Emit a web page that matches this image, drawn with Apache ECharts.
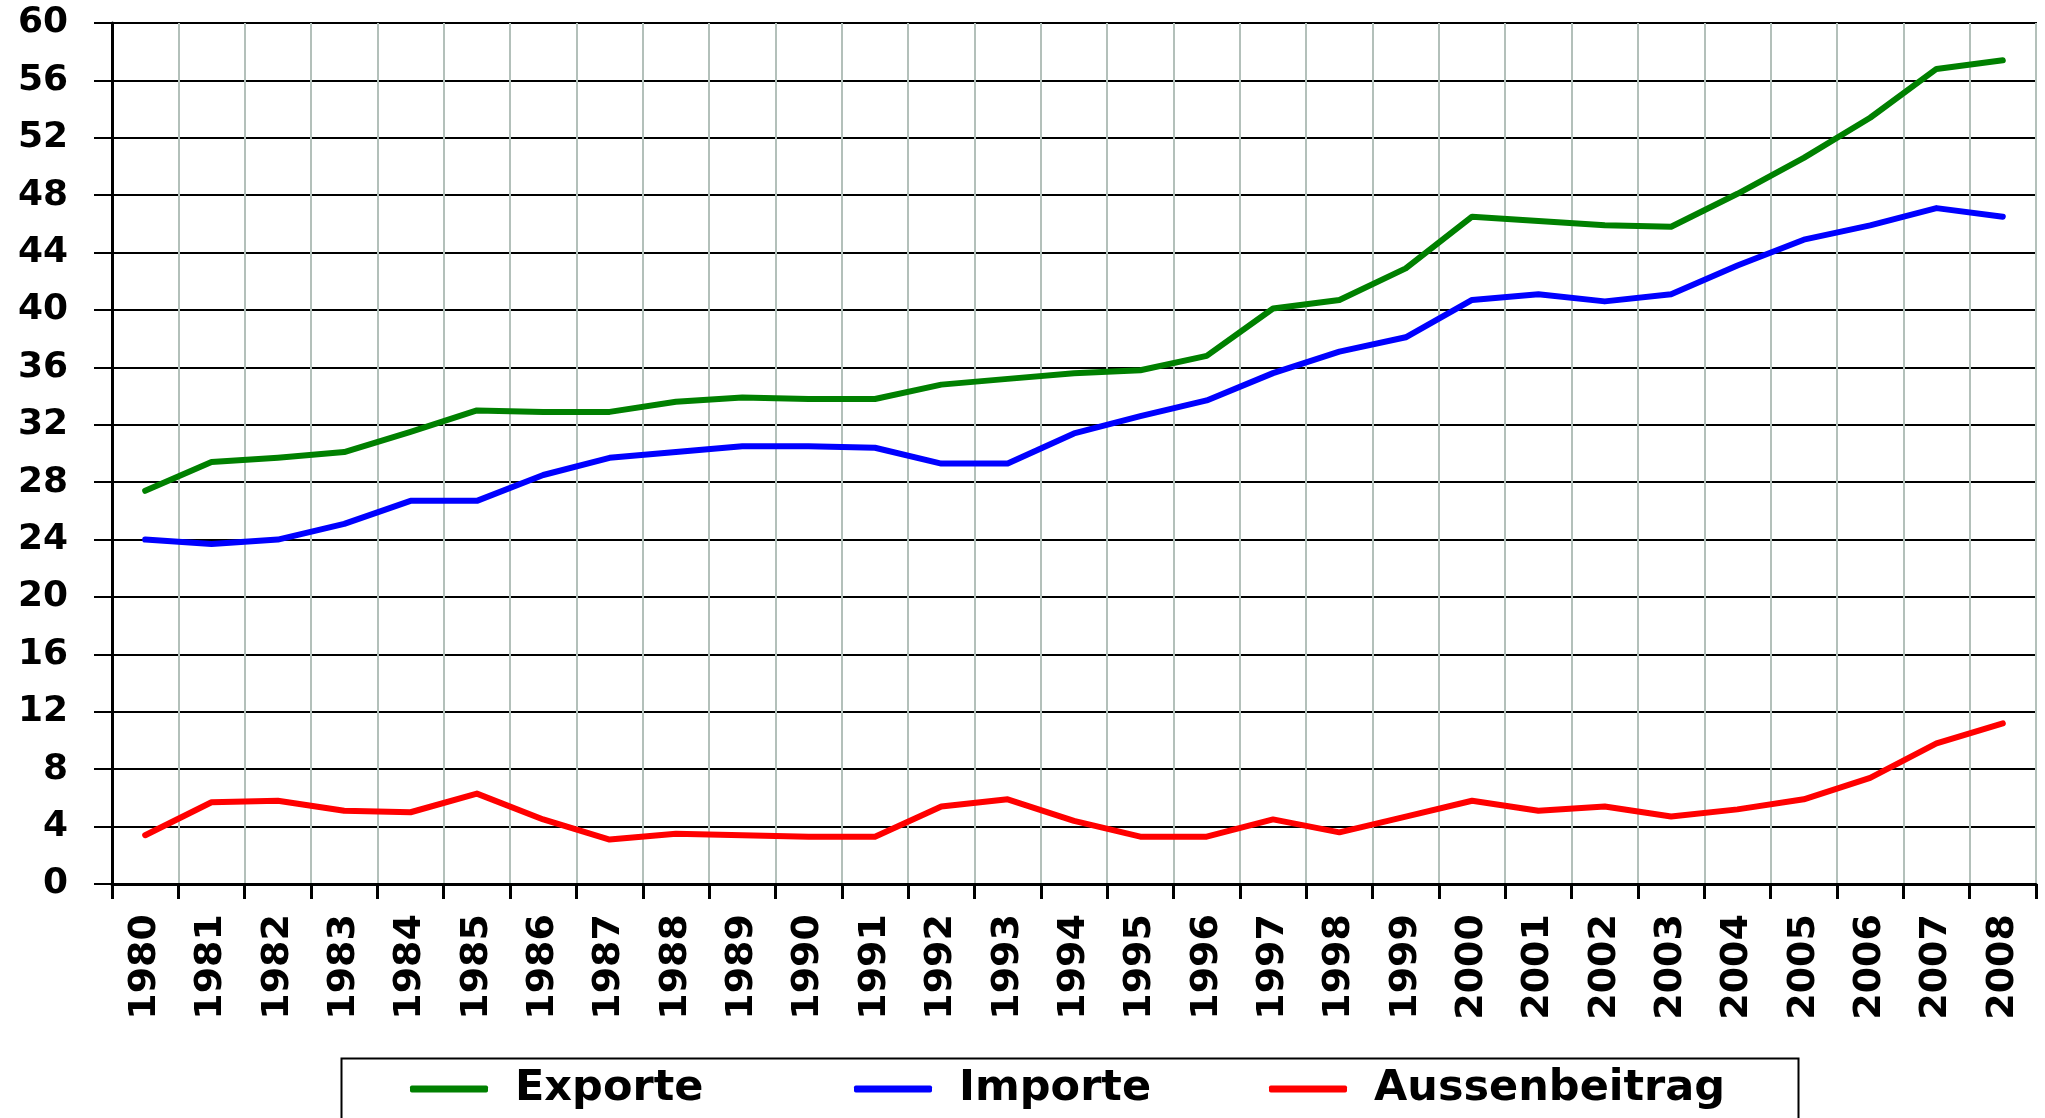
<!DOCTYPE html>
<html>
<head>
<meta charset="utf-8">
<script src="https://cdn.jsdelivr.net/npm/echarts@6/dist/echarts.min.js"></script>
<style>
  html, body { margin: 0; padding: 0; background: #fff; }
  #chart { width: 2045px; height: 1118px; }
</style>
</head>
<body>
<div id="chart"></div>
<script>
const years = ["1980","1981","1982","1983","1984","1985","1986","1987","1988","1989",
  "1990","1991","1992","1993","1994","1995","1996","1997","1998","1999",
  "2000","2001","2002","2003","2004","2005","2006","2007","2008"]

const exporte = [27.4, 29.4, 29.7, 30.1, 31.5, 33.0, 32.9, 32.9, 33.6, 33.9,
  33.8, 33.8, 34.8, 35.2, 35.6, 35.8, 36.8, 40.1, 40.7, 42.9,
  46.5, 46.2, 45.9, 45.8, 48.1, 50.6, 53.4, 56.8, 57.4]

const importe = [24.0, 23.7, 24.0, 25.1, 26.7, 26.7, 28.5, 29.7, 30.1, 30.5,
  30.5, 30.4, 29.3, 29.3, 31.4, 32.6, 33.7, 35.6, 37.1, 38.1,
  40.7, 41.1, 40.6, 41.1, 43.1, 44.9, 45.9, 47.1, 46.5]

const aussenbeitrag = [3.4, 5.7, 5.8, 5.1, 5.0, 6.3, 4.5, 3.1, 3.5, 3.4,
  3.3, 3.3, 5.4, 5.9, 4.4, 3.3, 3.3, 4.5, 3.6, 4.7,
  5.8, 5.1, 5.4, 4.7, 5.2, 5.9, 7.4, 9.8, 11.2]

const FONT = "DejaVu Sans"

// one legend per entry so each can sit where the original put it
function legendItem(name, left) {
  return {
    data: [name],
    left: left,
    top: 1067,
    padding: 0,
    icon: "roundRect",
    itemWidth: 78,
    itemHeight: 7,
    selectedMode: false,
    textStyle: {
      color: "#000",
      fontFamily: FONT,
      fontWeight: "bold",
      fontSize: 43,
      lineHeight: 44,
      padding: [0, 0, 0, 22]
    }
  }
}

function lineSeries(name, data, color) {
  return {
    name: name,
    type: "line",
    data: data,
    symbol: "none",
    smooth: false,
    animation: false,
    color: color,
    lineStyle: { color: color, width: 6, cap: "round", join: "round" }
  }
}

const option = {
  backgroundColor: "#fff",
  grid: {
    left: 112,
    right: 9,
    top: 23,
    bottom: 234,
    show: true,
    borderColor: "#000",
    borderWidth: 2
  },
  legend: [
    legendItem("Exporte", 410),
    legendItem("Importe", 854),
    legendItem("Aussenbeitrag", 1269)
  ],
  graphic: [
    {
      type: "rect",
      left: 339,
      top: 1056,
      shape: { width: 1457, height: 90 },
      style: { fill: null, stroke: "#000", lineWidth: 2 },
      z: -1
    }
  ],
  xAxis: {
    type: "category",
    data: years,
    boundaryGap: true,
    axisLine: { lineStyle: { color: "#000", width: 3 } },
    axisTick: { show: true, length: 15, lineStyle: { color: "#000", width: 3 } },
    splitLine: { show: true, lineStyle: { color: "#b3c0ba", width: 2 } },
    axisLabel: {
      rotate: 90,
      interval: 0,
      margin: 30,
      color: "#000",
      fontFamily: FONT,
      fontWeight: "bold",
      fontSize: 38,
      padding: [0, 0, 16, 0]
    }
  },
  yAxis: {
    type: "value",
    min: 0,
    max: 60,
    interval: 4,
    axisLine: { show: true, lineStyle: { color: "#000", width: 3 } },
    axisTick: { show: true, length: 18, lineStyle: { color: "#000", width: 2 } },
    splitLine: { show: true, lineStyle: { color: "#000", width: 2 } },
    axisLabel: {
      margin: 44,
      color: "#000",
      fontFamily: FONT,
      fontWeight: "bold",
      fontSize: 36
    }
  },
  series: [
    lineSeries("Exporte", exporte, "#008000"),
    lineSeries("Importe", importe, "#0000ff"),
    lineSeries("Aussenbeitrag", aussenbeitrag, "#ff0000")
  ]
}

const chartDom = echarts.init(document.getElementById("chart"))
chartDom.setOption(option)
</script>
</body>
</html>
